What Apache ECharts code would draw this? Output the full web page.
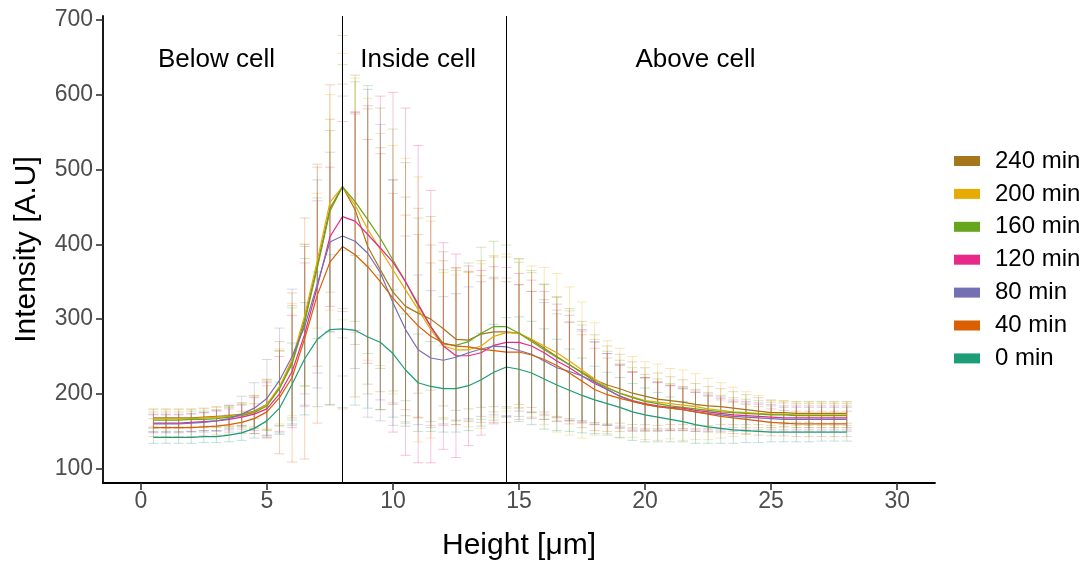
<!DOCTYPE html>
<html>
<head>
<meta charset="utf-8">
<title>Intensity profile by height</title>
<script src="https://cdn.jsdelivr.net/npm/echarts@6/dist/echarts.min.js"></script>
<style>
  html, body { margin: 0; padding: 0; background: #ffffff; }
  #chart { width: 1089px; height: 563px; }
</style>
</head>
<body>
<div id="chart"></div>
<script>
// Sampled heights along the z stack [µm]
const heights = [
  0.5, 1, 1.5, 2, 2.5, 3, 3.5, 4, 4.5, 5, 5.5, 6, 6.5, 7, 7.5, 8, 8.5, 9, 9.5, 10,
  10.5, 11, 11.5, 12, 12.5, 13, 13.5, 14, 14.5, 15, 15.5, 16, 16.5, 17, 17.5, 18, 18.5, 19, 19.5, 20,
  20.5, 21, 21.5, 22, 22.5, 23, 23.5, 24, 24.5, 25, 25.5, 26, 26.5, 27, 27.5, 28
];

// Mean intensity per time point
const mean0 = [
  142, 142, 142, 142, 143, 143, 145, 148, 154, 164, 181, 213, 247, 273, 286, 287, 285, 276, 269, 254,
  232, 215, 210, 207, 207, 211, 219, 229, 236, 233, 228, 220, 212, 205, 198, 192, 187, 182, 176, 172,
  169, 166, 163, 159, 156, 154, 152, 151, 150, 149, 149, 149, 149, 149, 149, 149
];
const mean40 = [
  155, 155, 155, 155, 156, 157, 159, 162, 167, 176, 195, 222, 274, 332, 376, 397, 386, 370, 350, 328,
  309, 291, 277, 268, 264, 263, 260, 258, 256, 256, 252, 246, 238, 228, 217, 206, 199, 194, 190, 186,
  183, 181, 179, 176, 173, 170, 168, 166, 164, 162, 161, 160, 160, 160, 160, 160
];
const mean80 = [
  160, 160, 160, 161, 162, 164, 167, 173, 181, 194, 218, 250, 290, 347, 403, 411, 404, 388, 362, 322,
  286, 259, 248, 245, 249, 255, 260, 264, 263, 258, 253, 244, 235, 230, 224, 216, 206, 197, 190, 186,
  183, 181, 179, 176, 174, 172, 170, 169, 168, 167, 166, 166, 166, 166, 166, 166
];
const mean120 = [
  161, 161, 161, 162, 163, 164, 166, 169, 173, 180, 200, 230, 280, 343, 410, 437, 431, 413, 395, 376,
  350, 320, 290, 264, 251, 251, 255, 265, 269, 269, 264, 255, 244, 235, 224, 214, 206, 197, 191, 187,
  184, 182, 181, 178, 176, 174, 172, 171, 170, 169, 168, 168, 168, 168, 168, 168
];
const mean160 = [
  165, 165, 165, 166, 166, 167, 169, 171, 175, 184, 207, 240, 296, 368, 444, 477, 457, 433, 408, 379,
  350, 318, 290, 267, 265, 270, 281, 290, 290, 281, 270, 259, 249, 239, 228, 217, 208, 201, 195, 190,
  187, 184, 182, 180, 178, 176, 175, 174, 173, 172, 172, 171, 171, 171, 171, 171
];
const mean200 = [
  167, 167, 167, 167, 168, 169, 170, 172, 176, 186, 210, 246, 305, 378, 456, 477, 452, 420, 393, 366,
  339, 313, 286, 264, 259, 259, 264, 277, 282, 281, 273, 264, 255, 244, 232, 220, 209, 201, 196, 191,
  189, 187, 185, 183, 180, 178, 176, 175, 174, 173, 173, 172, 172, 172, 172, 172
];
const mean240 = [
  168, 168, 168, 168, 169, 170, 171, 173, 177, 186, 208, 243, 300, 372, 448, 477, 446, 397, 366, 336,
  317, 308, 300, 287, 273, 272, 280, 283, 283, 281, 272, 261, 250, 239, 229, 219, 212, 207, 201, 197,
  193, 191, 189, 186, 184, 183, 181, 179, 177, 175, 175, 174, 174, 174, 174, 174
];

// Standard deviation per time point
const sd0 = [
  8, 8, 8, 8, 8, 8, 9, 10, 13, 20, 35, 55, 75, 90, 100, 105, 100, 95, 90, 85,
  75, 65, 60, 58, 58, 60, 62, 64, 66, 70, 69, 67, 61, 55, 50, 45, 42, 40, 38, 36,
  33, 30, 27, 25, 22, 20, 18, 16, 15, 13, 13, 13, 13, 12, 12, 12
];
const sd40 = [
  12, 12, 12, 12, 12, 12, 13, 15, 20, 35, 75, 113, 161, 171, 191, 217, 190, 170, 171, 140,
  130, 122, 122, 110, 105, 100, 98, 96, 94, 90, 85, 80, 74, 68, 62, 55, 49, 44, 40, 36,
  33, 30, 28, 26, 24, 22, 21, 20, 19, 18, 17, 17, 17, 17, 17, 17
];
const sd80 = [
  12, 12, 12, 12, 13, 14, 18, 24, 34, 52, 70, 90, 107, 139, 120, 187, 170, 219, 198, 164,
  125, 100, 90, 85, 85, 88, 90, 92, 92, 88, 84, 78, 72, 66, 60, 54, 48, 43, 39, 35,
  32, 30, 28, 26, 24, 22, 20, 19, 18, 17, 16, 16, 16, 16, 16, 16
];
const sd120 = [
  12, 12, 12, 12, 12, 13, 14, 16, 22, 35, 50, 75, 95, 115, 93, 127, 146, 172, 203, 227,
  232, 212, 182, 138, 136, 120, 110, 105, 100, 92, 88, 82, 76, 70, 62, 55, 48, 42, 38, 35,
  32, 30, 28, 26, 24, 22, 20, 19, 18, 17, 16, 16, 16, 16, 16, 16
];
const sd160 = [
  11, 11, 11, 11, 11, 12, 13, 15, 21, 33, 50, 75, 85, 94, 108, 163, 160, 179, 174, 175,
  159, 117, 85, 99, 100, 105, 115, 114, 109, 100, 95, 88, 80, 72, 64, 56, 49, 44, 40, 36,
  33, 30, 28, 26, 24, 22, 20, 19, 18, 17, 16, 16, 16, 16, 16, 16
];
const sd200 = [
  12, 12, 12, 12, 12, 13, 14, 16, 22, 34, 50, 75, 95, 90, 144, 178, 170, 175, 155, 166,
  176, 177, 145, 98, 100, 103, 110, 108, 105, 99, 98, 105, 106, 99, 91, 75, 62, 60, 54, 52,
  51, 47, 47, 44, 41, 37, 33, 28, 24, 18, 17, 17, 17, 17, 17, 17
];
const sd240 = [
  12, 12, 12, 12, 12, 13, 13, 15, 21, 33, 50, 75, 100, 135, 165, 202, 180, 184, 163, 150,
  146, 140, 137, 103, 95, 92, 98, 100, 100, 95, 90, 85, 80, 75, 68, 60, 52, 46, 42, 38,
  35, 32, 30, 28, 26, 24, 22, 20, 18, 17, 16, 16, 16, 16, 16, 16
];

// Series names (legend order, top to bottom) and their colours
const seriesNames = ['240 min', '200 min', '160 min', '120 min', '80 min', '40 min', '0 min'];
const seriesColors = ['#A6761D', '#E6AB02', '#66A61E', '#E7298A', '#7570B3', '#D95F02', '#1B9E77'];
const seriesMeans = [mean240, mean200, mean160, mean120, mean80, mean40, mean0];
const seriesSds = [sd240, sd200, sd160, sd120, sd80, sd40, sd0];

// Cell boundaries and region labels
const boundaryHeights = [8, 14.5];
const regionLabels = ['Below cell', 'Inside cell', 'Above cell'];
const regionLabelHeights = [3, 11, 22];
const regionLabelIntensity = 646;

// Axis ticks
const xTicks = [0, 5, 10, 15, 20, 25, 30];
const yTicks = [100, 200, 300, 400, 500, 600, 700];

const FONT = '"Liberation Sans", Arial, sans-serif';
const CAP_HALF = 0.2; // half-width of error-bar whiskers, in µm

function withAlpha(hex, a) {
  const n = parseInt(hex.slice(1), 16);
  return 'rgba(' + ((n >> 16) & 255) + ',' + ((n >> 8) & 255) + ',' + (n & 255) + ',' + a + ')';
}

function errorBarRenderer(color) {
  const style = { stroke: withAlpha(color, 0.28), lineWidth: 1, fill: null };
  return function (params, api) {
    const x = api.value(0);
    const lo = api.coord([x, api.value(1)]);
    const hi = api.coord([x, api.value(2)]);
    const half = api.size([CAP_HALF, 0])[0];
    return {
      type: 'group',
      children: [
        { type: 'line', shape: { x1: lo[0], y1: lo[1], x2: hi[0], y2: hi[1] }, style: style },
        { type: 'line', shape: { x1: lo[0] - half, y1: lo[1], x2: lo[0] + half, y2: lo[1] }, style: style },
        { type: 'line', shape: { x1: hi[0] - half, y1: hi[1], x2: hi[0] + half, y2: hi[1] }, style: style }
      ]
    };
  };
}

const series = [];

// Error bars (mean ± sd), drawn beneath the mean lines
seriesNames.forEach(function (name, k) {
  const m = seriesMeans[k], s = seriesSds[k];
  series.push({
    name: name,
    type: 'custom',
    renderItem: errorBarRenderer(seriesColors[k]),
    data: heights.map(function (h, i) { return [h, m[i] - s[i], m[i] + s[i]]; }),
    encode: { x: 0, y: [1, 2] },
    z: 2,
    silent: true
  });
});

// Mean intensity lines
seriesNames.forEach(function (name, k) {
  series.push({
    name: name,
    type: 'line',
    data: heights.map(function (h, i) { return [h, seriesMeans[k][i]]; }),
    showSymbol: false,
    symbol: 'none',
    lineStyle: { color: seriesColors[k], width: 1.2 },
    itemStyle: { color: seriesColors[k] },
    z: 3,
    silent: true
  });
});

// Region labels above the profiles
series.push({
  name: 'regions',
  type: 'custom',
  data: regionLabels.map(function (t, i) { return [regionLabelHeights[i], regionLabelIntensity, i]; }),
  encode: { x: 0, y: 1 },
  renderItem: function (params, api) {
    const p = api.coord([api.value(0), api.value(1)]);
    return {
      type: 'text',
      x: p[0],
      y: p[1],
      style: {
        text: regionLabels[api.value(2)],
        fill: '#000000',
        font: '26px ' + FONT,
        align: 'center',
        verticalAlign: 'middle'
      }
    };
  },
  z: 4,
  silent: true
});

// Cell boundaries
series.push({
  name: 'boundaries',
  type: 'line',
  data: [],
  markLine: {
    silent: true,
    symbol: 'none',
    label: { show: false },
    lineStyle: { color: '#000000', width: 1, type: 'solid' },
    data: boundaryHeights.map(function (h) { return { xAxis: h }; })
  },
  z: 4,
  silent: true
});

const chart = echarts.init(document.getElementById('chart'), null, { renderer: 'canvas' });
chart.setOption({
  animation: false,
  backgroundColor: '#ffffff',
  grid: { left: 103, right: 154, top: 16, bottom: 80, containLabel: false, outerBoundsMode: 'none' },
  xAxis: {
    type: 'value',
    min: -1.5,
    max: 31.5,
    name: 'Height [\u03bcm]',
    nameLocation: 'middle',
    nameGap: 48,
    nameTextStyle: { color: '#000000', fontFamily: FONT, fontSize: 30 },
    axisLine: { show: true, onZero: false, lineStyle: { color: '#000000', width: 1.8 } },
    axisTick: { show: true, length: 7, customValues: xTicks, lineStyle: { color: '#333333', width: 1.6 } },
    axisLabel: { customValues: xTicks, color: '#4D4D4D', fontFamily: FONT, fontSize: 23, margin: 7 },
    splitLine: { show: false }
  },
  yAxis: {
    type: 'value',
    min: 81,
    max: 705,
    name: 'Intensity [A.U]',
    nameLocation: 'middle',
    nameRotate: 90,
    nameGap: 61,
    nameTextStyle: { color: '#000000', fontFamily: FONT, fontSize: 30 },
    axisLine: { show: true, onZero: false, lineStyle: { color: '#000000', width: 1.8 } },
    axisTick: { show: true, length: 7, customValues: yTicks, lineStyle: { color: '#333333', width: 1.6 } },
    axisLabel: { customValues: yTicks, color: '#4D4D4D', fontFamily: FONT, fontSize: 23, margin: 10 },
    splitLine: { show: false }
  },
  legend: {
    orient: 'vertical',
    left: 949,
    top: 144,
    icon: 'rect',
    itemWidth: 26,
    itemHeight: 10,
    itemGap: 8.9,
    selectedMode: false,
    textStyle: { color: '#000000', fontFamily: FONT, fontSize: 24, lineHeight: 24, padding: [0, 0, 0, 10] },
    data: seriesNames.map(function (n, k) {
      return { name: n, itemStyle: { color: seriesColors[k] } };
    })
  },
  series: series
});
</script>
</body>
</html>
